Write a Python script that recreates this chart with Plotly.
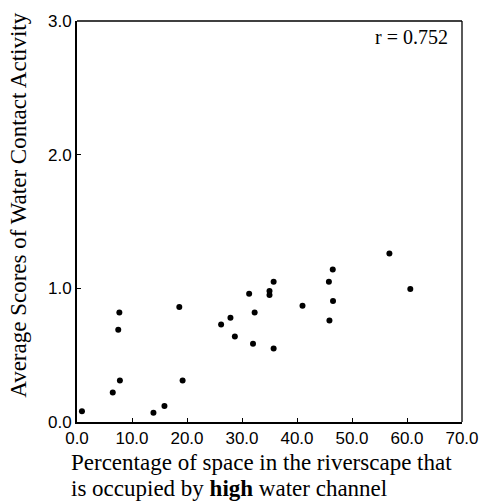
import plotly.graph_objects as go

x_pct = [0.9, 6.5, 7.8, 7.5, 7.7, 13.9, 15.9, 18.6, 19.2, 26.2, 27.9, 28.7, 31.3, 32.0,
         32.3, 35.0, 35.0, 35.75, 35.75, 41.0, 45.8, 46.5, 46.55, 45.9, 56.8, 60.6]
y_score = [0.08, 0.22, 0.31, 0.69, 0.82, 0.07, 0.12, 0.86, 0.31, 0.73, 0.78, 0.64, 0.96, 0.585,
           0.82, 0.98, 0.95, 1.05, 0.55, 0.87, 1.05, 1.14, 0.905, 0.76, 1.26, 0.995]
x_ticks = [0, 10, 20, 30, 40, 50, 60, 70]
x_ticklabels = ["0.0", "10.0", "20.0", "30.0", "40.0", "50.0", "60.0", "70.0"]
y_ticks = [0, 1, 2, 3]
y_ticklabels = ["0.0", "1.0", "2.0", "3.0"]
r_label = "r = 0.752"
y_title = "Average Scores of Water Contact Activity"
x_title_lines = ["Percentage of space in the riverscape that",
                 "is occupied by <b>high</b> water channel"]

serif = "Liberation Serif, Times New Roman, serif"
sans = "Liberation Sans, Arial, sans-serif"

L, R, T, B = 77, 18, 19, 82
W, H = 491, 504
pw, ph = W - L - R, H - T - B


def px_x(p):
    return (p - L) / pw


def px_y(p):
    return (H - B - p) / ph


fig = go.Figure()
fig.add_trace(go.Scatter(x=x_pct, y=y_score, mode="markers",
                         marker=dict(color="black", size=6), showlegend=False))

fig.update_layout(
    width=W, height=H,
    margin=dict(l=L, r=R, t=T, b=B),
    paper_bgcolor="white", plot_bgcolor="white",
    font=dict(family=serif, color="black"),
    xaxis=dict(range=[0, 70], tickvals=x_ticks, ticktext=x_ticklabels,
               showgrid=False, zeroline=False, showline=True, linecolor="black",
               linewidth=2, mirror=False, ticks="inside", ticklen=4, tickcolor="black",
               tickfont=dict(size=17, family=sans)),
    yaxis=dict(range=[0, 3], tickvals=y_ticks, ticktext=y_ticklabels,
               showgrid=False, zeroline=False, showline=True, linecolor="black",
               linewidth=2, mirror=False, ticks="inside", ticklen=4, tickcolor="black",
               tickfont=dict(size=17, family=sans)),
)
# thinner top and right frame lines
fig.add_shape(type="line", xref="paper", yref="paper", x0=0, x1=1, y0=1, y1=1,
              line=dict(color="black", width=1.3))
fig.add_shape(type="line", xref="paper", yref="paper", x0=1, x1=1, y0=0, y1=1,
              line=dict(color="black", width=1.3))

fig.add_annotation(x=px_x(461), y=px_y(22), xref="paper", yref="paper", text=r_label,
                   showarrow=False, xanchor="right", yanchor="top",
                   font=dict(size=20, family=serif))
fig.add_annotation(x=px_x(16), y=px_y(204), xref="paper", yref="paper", text=y_title,
                   showarrow=False, xanchor="center", yanchor="middle", textangle=-90,
                   font=dict(size=23, family=serif))
for i, line in enumerate(x_title_lines):
    fig.add_annotation(x=px_x(70), y=px_y(449 + 26 * i), xref="paper", yref="paper",
                       text=line, showarrow=False, xanchor="left", yanchor="top",
                       align="left", borderpad=0,
                       font=dict(size=23, family=serif))
fig.write_html("out.html")
